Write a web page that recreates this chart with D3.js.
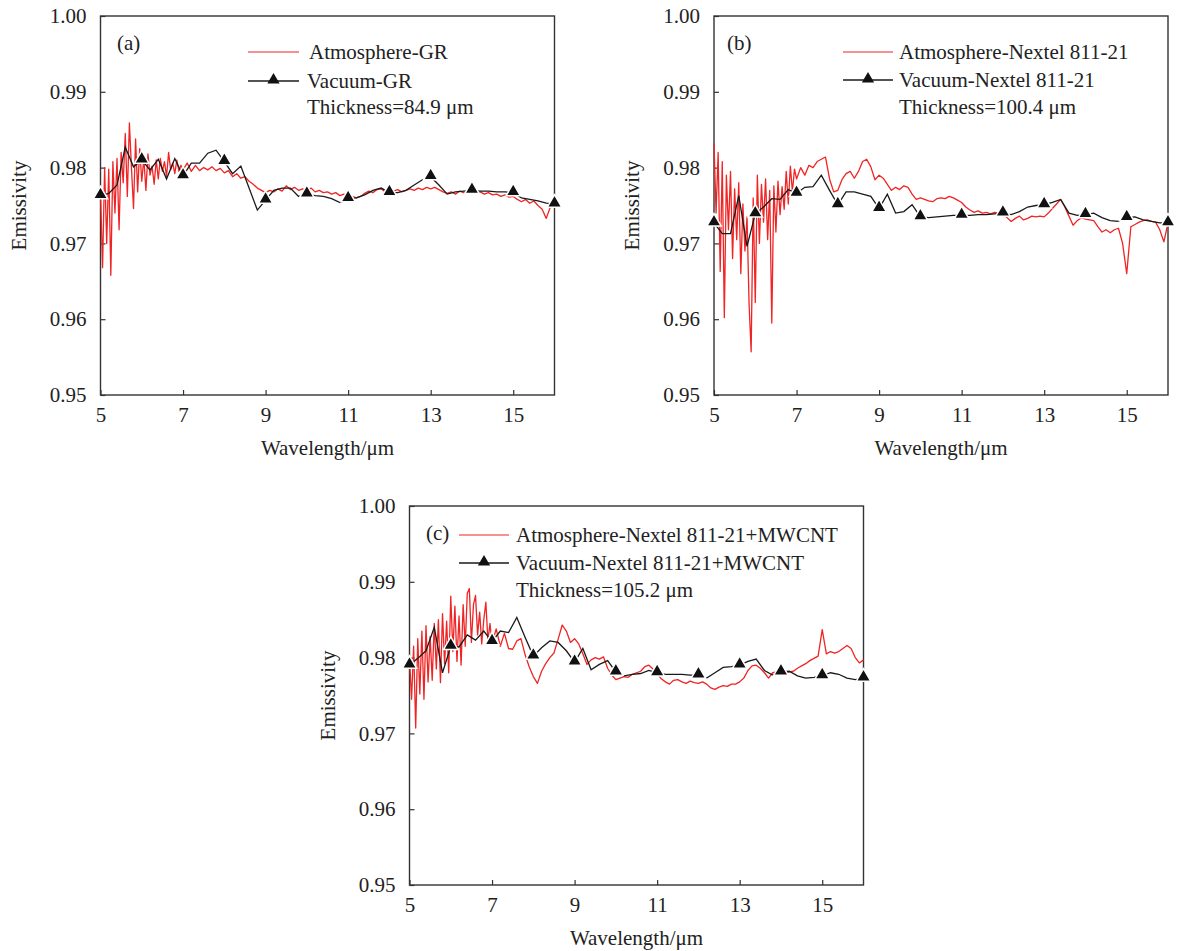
<!DOCTYPE html>
<html>
<head>
<meta charset="utf-8">
<script src="https://cdn.jsdelivr.net/npm/d3@7"></script>
<style>
  body { margin: 0; background: #fff; }
  text { font-family: "Liberation Serif", "Times New Roman", serif; fill: #222; }
</style>
</head>
<body>
<div id="chart"></div>
<script>
const width = 1177 // svg width
const height = 951 // svg height
const plotW = 454 // width of each plot box
const plotH = 379 // height of each plot box

// sampling of the spectra: 0.05 um steps in the noisy 5-7 um band, 0.1 um after
const atmWavelength = [...d3.range(5, 6.99, 0.05), ...d3.range(7, 16.01, 0.1)]
// vacuum curves are sampled every 0.2 um, a marker on every whole micron
const vacWavelength = d3.range(5, 16.01, 0.2)

const xTicks = [5, 7, 9, 11, 13, 15]
const yTicks = [0.95, 0.96, 0.97, 0.98, 0.99, 1.00]

const panelLabels = ["(a)", "(b)", "(c)"]
const atmNames = ["Atmosphere-GR", "Atmosphere-Nextel 811-21", "Atmosphere-Nextel 811-21+MWCNT"]
const vacNames = ["Vacuum-GR", "Vacuum-Nextel 811-21", "Vacuum-Nextel 811-21+MWCNT"]
const thickness = ["Thickness=84.9 μm", "Thickness=100.4 μm", "Thickness=105.2 μm"]

// (a) GR
const atmA = [
  0.9770, 0.9668, 0.9800, 0.9700, 0.9798, 0.9658, 0.9808, 0.9740, 0.9812, 0.9718,
  0.9820, 0.9780, 0.9845, 0.9762, 0.9859, 0.9800, 0.9746, 0.9838, 0.9768, 0.9825,
  0.9782, 0.9812, 0.9770, 0.9818, 0.9790, 0.9802, 0.9778, 0.9810, 0.9785, 0.9812,
  0.9795, 0.9808, 0.9788, 0.9820, 0.9797, 0.9806, 0.9792, 0.9810, 0.9795, 0.9803,
  0.9797, 0.9806, 0.9795, 0.9803, 0.9796, 0.9800, 0.9797, 0.9801, 0.9796, 0.9799,
  0.9793, 0.9796, 0.9788, 0.9792, 0.9786, 0.9788, 0.9782, 0.9778, 0.9773, 0.9770,
  0.9767, 0.9770, 0.9768, 0.9772, 0.9769, 0.9776, 0.9771, 0.9774, 0.9770, 0.9772,
  0.9769, 0.9773, 0.9768, 0.9770, 0.9767, 0.9768, 0.9765, 0.9767, 0.9763, 0.9765,
  0.9761, 0.9762, 0.9760, 0.9762, 0.9766, 0.9769, 0.9767, 0.9771, 0.9772, 0.9768,
  0.9767, 0.9769, 0.9771, 0.9768, 0.9770, 0.9772, 0.9770, 0.9773, 0.9771, 0.9774,
  0.9772, 0.9774, 0.9771, 0.9768, 0.9766, 0.9768, 0.9765, 0.9769, 0.9767, 0.9769,
  0.9768, 0.9766, 0.9768, 0.9765, 0.9767, 0.9764, 0.9765, 0.9762, 0.9764, 0.9761,
  0.9762, 0.9758, 0.9755, 0.9758, 0.9753, 0.9756, 0.9750, 0.9745, 0.9733, 0.9748,
  0.9755
]
const vacA = [
  0.9763, 0.9766, 0.9777, 0.9827, 0.9801, 0.9810, 0.9797, 0.9811, 0.9785, 0.9812,
  0.9789, 0.9806, 0.9806, 0.9819, 0.9823, 0.9808, 0.9792, 0.9802, 0.9773, 0.9744,
  0.9757, 0.9770, 0.9773, 0.9773, 0.9762, 0.9765, 0.9763, 0.9762, 0.9759, 0.9754,
  0.9759, 0.9760, 0.9764, 0.9770, 0.9773, 0.9767, 0.9767, 0.9770, 0.9777, 0.9784,
  0.9788, 0.9777, 0.9765, 0.9768, 0.9769, 0.9770, 0.9769, 0.9769, 0.9768, 0.9768,
  0.9767, 0.9760, 0.9758, 0.9756, 0.9753, 0.9752
]

// (b) Nextel 811-21
const atmB = [
  0.9832, 0.9740, 0.9820, 0.9663, 0.9808, 0.9602, 0.9790, 0.9718, 0.9795, 0.9680,
  0.9772, 0.9705, 0.9780, 0.9660, 0.9752, 0.9690, 0.9735, 0.9620, 0.9557, 0.9760,
  0.9622, 0.9790, 0.9700, 0.9778, 0.9728, 0.9785, 0.9705, 0.9770, 0.9595, 0.9776,
  0.9715, 0.9782, 0.9738, 0.9775, 0.9745, 0.9795, 0.9752, 0.9802, 0.9768, 0.9798,
  0.9785, 0.9800, 0.9790, 0.9803, 0.9800, 0.9808, 0.9811, 0.9814, 0.9785, 0.9768,
  0.9770, 0.9784, 0.9792, 0.9795, 0.9786, 0.9795, 0.9808, 0.9811, 0.9801, 0.9784,
  0.9790, 0.9786, 0.9778, 0.9770, 0.9774, 0.9771, 0.9776, 0.9774, 0.9765, 0.9758,
  0.9760, 0.9758, 0.9756, 0.9755, 0.9759, 0.9760, 0.9759, 0.9762, 0.9760, 0.9757,
  0.9754, 0.9748, 0.9744, 0.9741, 0.9743, 0.9740, 0.9741, 0.9739, 0.9741, 0.9740,
  0.9739, 0.9734, 0.9729, 0.9733, 0.9736, 0.9731, 0.9733, 0.9736, 0.9735, 0.9736,
  0.9735, 0.9740, 0.9746, 0.9752, 0.9758, 0.9748, 0.9736, 0.9724, 0.9730, 0.9734,
  0.9732, 0.9731, 0.9730, 0.9722, 0.9715, 0.9718, 0.9714, 0.9718, 0.9720, 0.9700,
  0.9660, 0.9722, 0.9725, 0.9728, 0.9730, 0.9731, 0.9729, 0.9728, 0.9718, 0.9702,
  0.9727
]
const vacB = [
  0.9727, 0.9713, 0.9713, 0.9763, 0.9696, 0.9739, 0.9748, 0.9759, 0.9758, 0.9771,
  0.9766, 0.9774, 0.9775, 0.9790, 0.9770, 0.9751, 0.9768, 0.9768, 0.9765, 0.9762,
  0.9746, 0.9765, 0.9740, 0.9742, 0.9751, 0.9735, 0.9734, 0.9735, 0.9736, 0.9737,
  0.9737, 0.9737, 0.9738, 0.9738, 0.9739, 0.9740, 0.9738, 0.9742, 0.9748, 0.9750,
  0.9751, 0.9754, 0.9758, 0.9740, 0.9737, 0.9738, 0.9740, 0.9734, 0.9730, 0.9729,
  0.9734, 0.9735, 0.9731, 0.9729, 0.9727, 0.9727
]

// (c) Nextel 811-21+MWCNT
const atmC = [
  0.9800, 0.9745, 0.9815, 0.9707, 0.9825, 0.9752, 0.9835, 0.9745, 0.9842, 0.9768,
  0.9828, 0.9770, 0.9845, 0.9785, 0.9850, 0.9767, 0.9858, 0.9792, 0.9848, 0.9780,
  0.9881, 0.9808, 0.9868, 0.9795, 0.9855, 0.9790, 0.9870, 0.9815, 0.9885, 0.9891,
  0.9820, 0.9870, 0.9882, 0.9830, 0.9860, 0.9818, 0.9850, 0.9873, 0.9822, 0.9845,
  0.9818, 0.9838, 0.9815, 0.9832, 0.9812, 0.9811, 0.9822, 0.9825, 0.9804, 0.9788,
  0.9775, 0.9766, 0.9782, 0.9792, 0.9800, 0.9806, 0.9824, 0.9843, 0.9835, 0.9820,
  0.9825, 0.9818, 0.9805, 0.9791, 0.9797, 0.9800, 0.9798, 0.9801, 0.9786, 0.9777,
  0.9771, 0.9773, 0.9775, 0.9774, 0.9778, 0.9780, 0.9782, 0.9788, 0.9790, 0.9785,
  0.9779, 0.9772, 0.9768, 0.9765, 0.9770, 0.9771, 0.9768, 0.9766, 0.9769, 0.9767,
  0.9766, 0.9768, 0.9765, 0.9760, 0.9758, 0.9761, 0.9763, 0.9762, 0.9765, 0.9765,
  0.9768, 0.9773, 0.9783, 0.9789, 0.9790, 0.9786, 0.9780, 0.9773, 0.9780, 0.9781,
  0.9779, 0.9780, 0.9781, 0.9782, 0.9786, 0.9789, 0.9792, 0.9796, 0.9799, 0.9802,
  0.9837, 0.9805, 0.9808, 0.9806, 0.9808, 0.9812, 0.9816, 0.9812, 0.9800, 0.9793,
  0.9797
]
const vacC = [
  0.9790, 0.9799, 0.9809, 0.9840, 0.9780, 0.9815, 0.9814, 0.9830, 0.9823, 0.9835,
  0.9821, 0.9835, 0.9833, 0.9853, 0.9827, 0.9802, 0.9813, 0.9822, 0.9820, 0.9809,
  0.9794, 0.9812, 0.9784, 0.9791, 0.9796, 0.9781, 0.9776, 0.9778, 0.9779, 0.9783,
  0.9780, 0.9778, 0.9778, 0.9778, 0.9777, 0.9777, 0.9773, 0.9780, 0.9787, 0.9788,
  0.9790, 0.9795, 0.9798, 0.9783, 0.9777, 0.9781, 0.9782, 0.9776, 0.9773, 0.9774,
  0.9776, 0.9780, 0.9778, 0.9773, 0.9771, 0.9773
]

// where each plot box sits, and where its legend goes (offsets from the box corner)
const panels = [
  { left: 100.5, top: 16, atm: atmA, vac: vacA, lab: [16.5, 34], legLine: [147.5, 198.5], legText: [208.5, 206.5], legY: [36, 65, 91] },
  { left: 714, top: 16, atm: atmB, vac: vacB, lab: [13, 34], legLine: [129, 179], legText: [185, 185], legY: [36, 64, 91] },
  { left: 409.5, top: 506, atm: atmC, vac: vacC, lab: [16.5, 34], legLine: [49.5, 99.5], legText: [106.5, 106.5], legY: [29, 57, 84] }
]

// SCALES
const x = d3.scaleLinear().domain([5, 16]).range([0, plotW])
const y = d3.scaleLinear().domain([0.95, 1.00]).range([plotH, 0])

const redLine = d3.line()
  .x((d) => x(d[0]))
  .y((d) => y(d[1]))

const tri = d3.symbol().type(d3.symbolTriangle).size(90) // marker shape
const legTri = d3.symbol().type(d3.symbolTriangle).size(65) // smaller one for the legend

const svg = d3.select("#chart")
  .append("svg")
  .attr("width", width)
  .attr("height", height)

panels.forEach((p, i) => {
  const g = svg.append("g").attr("transform", `translate(${p.left},${p.top})`)

  // axes: ticks point inward
  g.append("g")
    .attr("transform", `translate(0,${plotH})`)
    .call(d3.axisBottom(x).tickValues(xTicks).tickSizeInner(-5).tickSizeOuter(0).tickPadding(12).tickFormat(d3.format("d")))
    .call((a) => a.select(".domain").remove())
    .call((a) => a.selectAll("text").attr("font-size", 21).attr("font-family", null).attr("fill", "#222"))
    .call((a) => a.selectAll("line").attr("stroke", "#333").attr("stroke-width", 1.2))

  g.append("g")
    .call(d3.axisLeft(y).tickValues(yTicks).tickSizeInner(-5).tickSizeOuter(0).tickPadding(14).tickFormat(d3.format(".2f")))
    .call((a) => a.select(".domain").remove())
    .call((a) => a.selectAll("text").attr("font-size", 21).attr("font-family", null).attr("fill", "#222"))
    .call((a) => a.selectAll("line").attr("stroke", "#333").attr("stroke-width", 1.2))

  // frame around the plot
  g.append("rect")
    .attr("width", plotW)
    .attr("height", plotH)
    .attr("fill", "none")
    .attr("stroke", "#333")
    .attr("stroke-width", 1.4)

  // atmosphere spectrum
  g.append("path")
    .datum(atmWavelength.map((w, k) => [w, p.atm[k]]))
    .attr("d", redLine)
    .attr("fill", "none")
    .attr("stroke", "#f02424")
    .attr("stroke-width", 1.3)
    .attr("stroke-linejoin", "round")

  // vacuum curve with triangles on whole microns
  const vacPts = vacWavelength.map((w, k) => [w, p.vac[k]])
  g.append("path")
    .datum(vacPts)
    .attr("d", redLine)
    .attr("fill", "none")
    .attr("stroke", "#1a1a1a")
    .attr("stroke-width", 1.3)

  g.selectAll(".mk")
    .data(vacPts.filter((d, k) => k % 5 === 0))
    .enter()
    .append("path")
    .attr("class", "mk")
    .attr("d", tri)
    .attr("transform", (d) => `translate(${x(d[0])},${y(d[1]) - 1})`)
    .attr("fill", "#111")
    .attr("stroke", "#fff")
    .attr("stroke-width", 1.5)

  // axis titles
  g.append("text")
    .attr("x", plotW / 2)
    .attr("y", plotH + 60)
    .attr("text-anchor", "middle")
    .attr("font-size", 21)
    .text("Wavelength/μm")

  g.append("text")
    .attr("transform", `translate(-75,${plotH / 2}) rotate(-90)`)
    .attr("text-anchor", "middle")
    .attr("font-size", 21)
    .text("Emissivity")

  // panel letter and legend
  g.append("text")
    .attr("x", p.lab[0])
    .attr("y", p.lab[1])
    .attr("font-size", 21)
    .text(panelLabels[i])

  g.append("line")
    .attr("x1", p.legLine[0]).attr("x2", p.legLine[1])
    .attr("y1", p.legY[0]).attr("y2", p.legY[0])
    .attr("stroke", "#f02424")
    .attr("stroke-width", 1.2)

  g.append("text")
    .attr("x", p.legText[0])
    .attr("y", p.legY[0] + 7)
    .attr("font-size", 21)
    .text(atmNames[i])

  g.append("line")
    .attr("x1", p.legLine[0]).attr("x2", p.legLine[1])
    .attr("y1", p.legY[1]).attr("y2", p.legY[1])
    .attr("stroke", "#1a1a1a")
    .attr("stroke-width", 1.3)

  g.append("path")
    .attr("d", legTri)
    .attr("transform", `translate(${(p.legLine[0] + p.legLine[1]) / 2},${p.legY[1] - 1})`)
    .attr("fill", "#111")

  g.append("text")
    .attr("x", p.legText[1])
    .attr("y", p.legY[1] + 7)
    .attr("font-size", 21)
    .text(vacNames[i])

  g.append("text")
    .attr("x", p.legText[1])
    .attr("y", p.legY[2] + 7)
    .attr("font-size", 21)
    .text(thickness[i])
})
</script>
</body>
</html>
